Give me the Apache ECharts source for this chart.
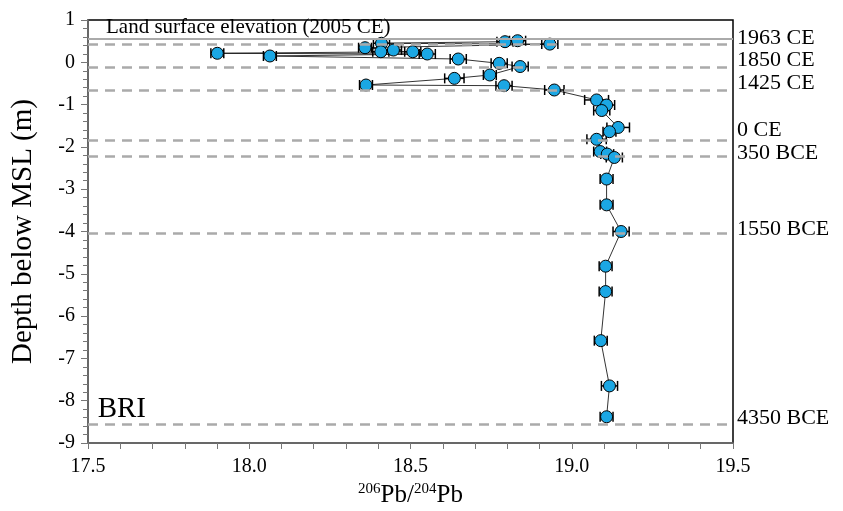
<!DOCTYPE html>
<html>
<head>
<meta charset="utf-8">
<script src="https://cdn.jsdelivr.net/npm/echarts@6/dist/echarts.min.js"></script>
<style>html,body{margin:0;padding:0;background:#fff}#c{width:843px;height:511px}</style>
</head>
<body>
<div id="c"></div>
<script>
// 206Pb/204Pb values, depth below MSL (m), and horizontal error (+/-)
const pb =    [18.832,18.793,18.41,18.932,18.359,18.447,18.408,18.507,17.901,18.552,18.064,18.648,18.775,18.84,18.746,18.636,18.362,18.79,18.946,19.077,19.108,19.093,19.144,19.117,19.077,19.088,19.11,19.132,19.108,19.108,19.153,19.105,19.105,19.09,19.117,19.108];
const depth = [0.51,0.487,0.45,0.43,0.345,0.29,0.25,0.25,0.213,0.196,0.149,0.078,-0.024,-0.10,-0.30,-0.38,-0.537,-0.553,-0.655,-0.89,-1.01,-1.14,-1.54,-1.64,-1.82,-2.11,-2.17,-2.25,-2.76,-3.37,-4.00,-4.82,-5.42,-6.58,-7.65,-8.38];
const err =   [0.025,0.025,0.025,0.025,0.02,0.025,0.025,0.025,0.02,0.025,0.02,0.025,0.025,0.025,0.02,0.03,0.02,0.025,0.03,0.037,0.025,0.025,0.035,0.02,0.03,0.02,0.02,0.025,0.02,0.02,0.025,0.02,0.02,0.02,0.025,0.02];
// Age horizons (depth in m)
const horizonNames = ['1963 CE','1850 CE','1425 CE','0 CE','350 BCE','1550 BCE','4350 BCE'];
const horizonDepth = [0.43,-0.11,-0.655,-1.84,-2.215,-4.03,-8.55];
const landSurface = 0.55;
const landLabel = 'Land surface elevation (2005 CE)';
const siteName = 'BRI';
const xTicks = {min:17.5,max:19.5,interval:0.5};
const yTicks = {min:-9,max:1,interval:1};

const FONT = '"Liberation Serif","Times New Roman",serif';
const labelOffsets = [[0,-6],[0,-7],[0,-7],[0,-10],[0,-3],[0,-4],[0,-6]];

const chart = echarts.init(document.getElementById('c'));
const pts = pb.map((v,i)=>[v,depth[i]]);
const errData = pb.map((v,i)=>[v-err[i], v+err[i], depth[i]]);

chart.setOption({
  animation:false,
  backgroundColor:'#fff',
  grid:{left:88,right:110,top:20,bottom:68,outerBoundsMode:'none',containLabel:false,show:true,borderColor:'#000',borderWidth:1.5,backgroundColor:'transparent'},
  xAxis:{type:'value',min:xTicks.min,max:xTicks.max,interval:xTicks.interval,
    axisLine:{show:true,onZero:false,lineStyle:{color:'#777',width:1.5}},
    axisTick:{show:true,inside:false,length:6,lineStyle:{color:'#777'}},
    minorTick:{show:true,splitNumber:5,length:6,lineStyle:{color:'#777'}},
    splitLine:{show:false},
    axisLabel:{color:'#000',fontFamily:FONT,fontSize:20,margin:14,formatter:v=>v.toFixed(1)},
    name:'{n|206}{b|Pb/}{n|204}{b|Pb}',nameLocation:'middle',nameGap:38,
    nameTextStyle:{rich:{n:{fontFamily:FONT,fontSize:15,color:'#000',verticalAlign:'top',padding:[0,0,12,0]},b:{fontFamily:FONT,fontSize:25,color:'#000'}}}
  },
  yAxis:{type:'value',min:yTicks.min,max:yTicks.max,interval:yTicks.interval,
    axisLine:{show:true,onZero:false,lineStyle:{color:'#777',width:1.5}},
    axisTick:{show:true,inside:false,length:7,lineStyle:{color:'#777'}},
    minorTick:{show:true,splitNumber:5,length:5,lineStyle:{color:'#777'}},
    splitLine:{show:false},
    axisLabel:{color:'#000',fontFamily:FONT,fontSize:20,margin:13},
    name:'Depth below MSL (m)',nameLocation:'middle',nameGap:50,
    nameTextStyle:{fontFamily:FONT,fontSize:29,color:'#000'}
  },
  series:[
    {type:'line',data:[],silent:true,z:1,
      markLine:{silent:true,symbol:['none','none'],animation:false,
        data:[
          ...horizonNames.map((n,i)=>({name:n,yAxis:horizonDepth[i],
            lineStyle:{type:[10,7],color:'#aaa',width:2.5},
            label:{show:true,position:'end',formatter:'{b}',color:'#000',fontFamily:FONT,fontSize:22,distance:4,offset:labelOffsets[i]}})),
          {name:landLabel,yAxis:landSurface,lineStyle:{type:'solid',color:'#aaa',width:2},
            label:{show:true,position:'insideStartTop',formatter:'{b}',color:'#000',fontFamily:FONT,fontSize:21,distance:[18,1]}}
        ]}
    },
    {type:'custom',z:2,data:errData,
      renderItem:function(params,api){
        const y = api.value(2);
        const p1 = api.coord([api.value(0),y]);
        const p2 = api.coord([api.value(1),y]);
        const h = 5;
        const st = {stroke:'#000',lineWidth:1.5};
        return {type:'group',children:[
          {type:'line',shape:{x1:p1[0],y1:p1[1],x2:p2[0],y2:p2[1]},style:st},
          {type:'line',shape:{x1:p1[0],y1:p1[1]-h,x2:p1[0],y2:p1[1]+h},style:st},
          {type:'line',shape:{x1:p2[0],y1:p2[1]-h,x2:p2[0],y2:p2[1]+h},style:st}
        ]};
      }
    },
    {type:'line',z:3,data:pts,symbol:'circle',symbolSize:12,showAllSymbol:true,
      lineStyle:{color:'#000',width:0.8},
      itemStyle:{color:'#1ba7e4',borderColor:'#000',borderWidth:1}
    },
    {type:'scatter',z:4,data:[[17.53,-8.2]],symbolSize:0,silent:true,
      itemStyle:{opacity:1},
      label:{show:true,position:'right',formatter:siteName,color:'#000',fontFamily:FONT,fontSize:29,distance:0}
    }
  ]
});
</script>
</body>
</html>
